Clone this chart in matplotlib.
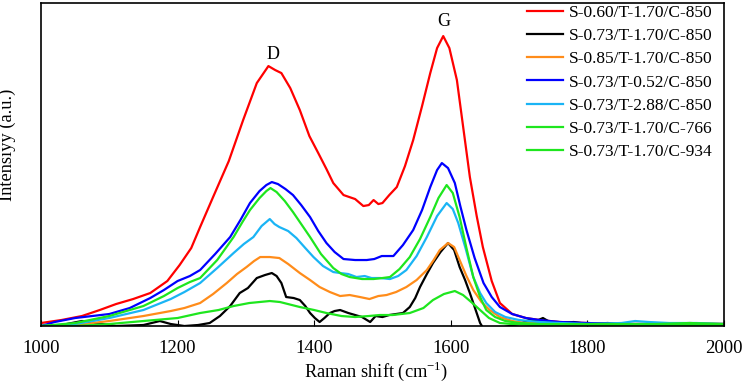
import numpy as np
import matplotlib
matplotlib.use("Agg")
import matplotlib.pyplot as plt

plt.rcParams['font.family'] = ['Liberation Serif', 'DejaVu Serif']
plt.rcParams['mathtext.fontset'] = 'custom'
plt.rcParams['mathtext.rm'] = 'Liberation Serif'

# Raman spectra (arbitrary intensity units)
w_red = [1000, 1030, 1060, 1086, 1110, 1135, 1160, 1185, 1203, 1220, 1233, 1252, 1275,
         1296, 1316, 1333, 1343, 1352, 1365, 1379, 1393, 1406, 1418, 1428, 1443, 1460,
         1472, 1480, 1487, 1494, 1500, 1510, 1521, 1533, 1545, 1558, 1570, 1580, 1589,
         1598, 1609, 1618, 1628, 1638, 1647, 1660, 1672, 1690, 1710, 1730, 1760, 1800,
         1850, 1900, 1950, 2000]
i_red = [3, 6, 10, 16, 22, 27, 33, 45, 61, 78, 99, 129, 165, 206, 243, 260, 256, 253,
         238, 216, 190, 173, 157, 143, 131, 127, 120, 121, 126, 122, 123, 131, 139, 160,
         186, 220, 253, 278, 290, 278, 246, 200, 149, 110, 79, 45, 23, 12, 8, 6, 4, 3,
         2, 2, 2, 2]

w_black = [1000, 1030, 1060, 1080, 1110, 1150, 1174, 1190, 1210, 1230, 1247, 1262, 1277,
           1291, 1303, 1316, 1328, 1338, 1345, 1352, 1359, 1370, 1379, 1387, 1394, 1401,
           1408, 1415, 1423, 1430, 1438, 1450, 1460, 1470, 1482, 1490, 1500, 1510, 1520,
           1530, 1540, 1548, 1555, 1565, 1574, 1585, 1596, 1605, 1613, 1621, 1628, 1636,
           1643, 1650, 1700, 1715, 1725, 1735, 1745, 1760, 1780, 1800, 1830, 1860, 1900,
           1950, 2000]
i_black = [0, 1, 5, 3, 0, 1, 5, 2, 0, 1, 3, 10, 20, 33, 38, 48, 51, 53, 50, 43, 29, 28,
           26, 20, 13, 8, 4, 8, 13, 15, 16, 13, 11, 9, 4, 10, 9, 11, 12, 13, 19, 28, 39,
           52, 63, 74, 83, 76, 59, 46, 33, 17, 3, -5, 2, 6, 5, 8, 4, 3, 4, 2, 3, 1, 2, 1, 2]

w_orange = [1000, 1050, 1100, 1150, 1190, 1210, 1233, 1252, 1272, 1287, 1301, 1312, 1321,
            1335, 1349, 1362, 1379, 1394, 1408, 1423, 1438, 1452, 1467, 1481, 1494, 1506,
            1520, 1535, 1550, 1565, 1575, 1584, 1596, 1605, 1613, 1623, 1633, 1645, 1657,
            1672, 1690, 1710, 1740, 1780, 1850, 1900, 1950, 2000]
i_orange = [0, 1, 5, 10, 15, 18, 23, 32, 43, 52, 59, 65, 69, 69, 68, 62, 53, 46, 39, 34,
            30, 31, 29, 27, 30, 31, 34, 39, 46, 56, 66, 76, 83, 79, 66, 50, 36, 24, 16, 9,
            5, 3, 3, 2, 2, 2, 3, 2]

w_blue = [1000, 1020, 1050, 1075, 1100, 1130, 1160, 1180, 1200, 1218, 1233, 1255, 1277,
          1292, 1306, 1320, 1330, 1338, 1347, 1358, 1369, 1381, 1394, 1406, 1418, 1430,
          1443, 1460, 1477, 1488, 1499, 1508, 1516, 1530, 1545, 1558, 1570, 1580, 1587,
          1596, 1606, 1614, 1623, 1635, 1648, 1660, 1672, 1690, 1710, 1730, 1760, 1800,
          1850, 1900, 1950, 2000]
i_blue = [0, 4, 8, 10, 12, 18, 28, 36, 45, 50, 56, 72, 89, 106, 123, 135, 141, 144, 142,
          137, 131, 121, 109, 95, 83, 74, 67, 66, 66, 67, 70, 70, 70, 81, 96, 116, 139,
          156, 163, 158, 143, 120, 96, 68, 43, 29, 19, 12, 8, 6, 4, 3, 2, 2, 2, 2]

w_lblue = [1000, 1050, 1100, 1150, 1190, 1210, 1233, 1258, 1282, 1297, 1311, 1323, 1335,
           1342, 1349, 1362, 1374, 1387, 1399, 1413, 1428, 1438, 1450, 1462, 1474, 1484,
           1497, 1511, 1523, 1535, 1550, 1565, 1580, 1594, 1603, 1611, 1622, 1633, 1643,
           1652, 1665, 1680, 1700, 1730, 1760, 1800, 1850, 1870, 1890, 1920, 1960, 2000]
i_lblue = [0, 2, 8, 16, 27, 34, 43, 58, 73, 82, 89, 100, 107, 102, 99, 95, 88, 78, 69,
           60, 54, 53, 52, 49, 50, 48, 48, 47, 50, 56, 70, 89, 110, 123, 117, 103, 77, 49,
           33, 23, 14, 9, 6, 4, 3, 2, 3, 5, 4, 3, 3, 2]

w_g766 = [1000, 1050, 1100, 1150, 1180, 1200, 1218, 1233, 1258, 1282, 1295, 1306, 1320,
          1330, 1336, 1345, 1357, 1369, 1381, 1394, 1410, 1428, 1440, 1452, 1470, 1487,
          1500, 1511, 1525, 1540, 1555, 1570, 1582, 1594, 1603, 1613, 1623, 1633, 1643,
          1652, 1665, 1680, 1700, 1730, 1800, 1850, 1900, 1950, 2000]
i_g766 = [0, 3, 10, 20, 30, 38, 44, 48, 66, 89, 104, 116, 128, 135, 138, 134, 125, 114,
          102, 89, 72, 58, 52, 49, 47, 47, 48, 49, 57, 69, 87, 109, 128, 141, 133, 109,
          78, 49, 29, 16, 9, 5, 3, 2, 2, 2, 2, 3, 2]

w_g934 = [1000, 1050, 1100, 1150, 1200, 1233, 1260, 1282, 1305, 1320, 1335, 1350, 1379,
          1400, 1418, 1440, 1460, 1480, 1496, 1515, 1540, 1560, 1574, 1590, 1606, 1618,
          1630, 1643, 1656, 1672, 1690, 1720, 1760, 1800, 1850, 1900, 1950, 2000]
i_g934 = [0, 0, 2, 5, 8, 13, 16, 20, 23, 24, 25, 24, 19, 16, 13, 10, 9, 10, 11, 11, 13,
          18, 26, 32, 35, 31, 24, 16, 8, 3, 2, 1, 1, 1, 1, 1, 1, 1]

labels = ['S-0.60/T-1.70/C-850', 'S-0.73/T-1.70/C-850', 'S-0.85/T-1.70/C-850',
          'S-0.73/T-0.52/C-850', 'S-0.73/T-2.88/C-850', 'S-0.73/T-1.70/C-766',
          'S-0.73/T-1.70/C-934']
colors = ['#ff0000', '#000000', '#ff8c1a', '#0000ff', '#1ab4f5', '#1ee61e', '#1ee61e']
series = [(w_red, i_red), (w_black, i_black), (w_orange, i_orange), (w_blue, i_blue),
          (w_lblue, i_lblue), (w_g766, i_g766), (w_g934, i_g934)]

fig = plt.figure(figsize=(7.44, 3.86), dpi=100)
ax = fig.add_axes([0.0551, 0.1554, 0.9179, 0.8366])

for (w, i), c, lab in zip(series, colors, labels):
    ax.plot(w, i, color=c, lw=1.6, label=lab)

ax.set_xlim(1000, 2000)
ax.set_ylim(0, 323)
ax.set_xticks(np.arange(1000, 2001, 200))
ax.set_yticks([])
ax.tick_params(axis='x', direction='in', length=4, labelsize=13.5, pad=10)
for s in ax.spines.values():
    s.set_linewidth(1.2)

ax.text(1340, 272, 'D', ha='center', va='center', fontsize=13)
ax.text(1590, 305, 'G', ha='center', va='center', fontsize=13)

ax.set_xlabel('Raman shift (cm$^{\\mathregular{-1}}$)', fontsize=13.2)
ax.xaxis.set_label_coords(0.49, -0.105)
ax.set_ylabel('Intensiyy (a.u.)', fontsize=13.2)
ax.yaxis.set_label_coords(-0.036, 0.56)

ax.legend(loc='upper right', bbox_to_anchor=(0.994, 1.017), frameon=False,
          fontsize=12.5, handlelength=2.07, labelspacing=0.41, handletextpad=0.35,
          borderaxespad=0.0)

fig.savefig('out.png', dpi=100)
